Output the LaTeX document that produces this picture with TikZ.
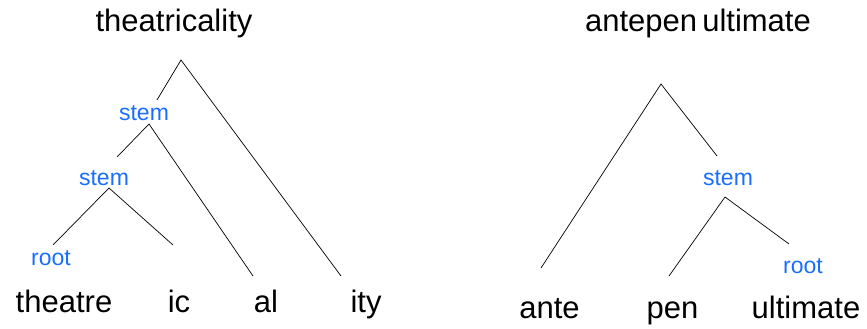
\documentclass[tikz,border=0pt]{standalone}
\usepackage{fontspec}
\setmainfont{Liberation Sans}
\definecolor{labblue}{RGB}{25,110,255}

\begin{document}
\begin{tikzpicture}[x=1pt,y=-1pt,line width=0.7pt,
            every node/.style={inner sep=0pt,anchor=base},
            word/.style={font=\fontsize{31}{36}\selectfont},
            lab/.style={font=\fontsize{23}{27}\selectfont,text=labblue}]
            \useasboundingbox(0,0)rectangle(867,329);
            % theatricality
            \node[word](theatricality)at(174,32){theatricality};
            \node[lab](stemup)at(144,120){stem};
            \node[lab](stemlow)at(104,185){stem};
            \node[lab](rootl)at(51,265){root};
            \node[word](theatre)at(64,312){theatre};
            \node[word](ic)at(179,312){ic};
            \node[word](al)at(266,312){al};
            \node[word](ity)at(366,312){ity};
            \coordinate(topl)at(181,60);
            \coordinate(topl-a)at(157,100);
            \coordinate(topl-b)at(341,276);
            \coordinate(stemup-top)at(149,124);
            \coordinate(stemup-a)at(117,157);
            \coordinate(stemup-b)at(253,276);
            \coordinate(stemlow-top)at(109,188);
            \coordinate(stemlow-a)at(53,245);
            \coordinate(stemlow-b)at(173,245);
            \draw(topl-a)--(topl)--(topl-b);
            \draw(stemup-a)--(stemup-top)--(stemup-b);
            \draw(stemlow-a)--(stemlow-top)--(stemlow-b);
            % antepenultimate
            \node[word](antepenultimate)at(698,32){antepen\,ultimate};
            \node[lab](stemr)at(728,185){stem};
            \node[lab](rootr)at(803,273){root};
            \node[word](ante)at(549.5,318){ante};
            \node[word](pen)at(672.5,318){pen};
            \node[word](ultimate)at(806,318){ultimate};
            \coordinate(topr)at(661,84);
            \coordinate(topr-a)at(541,268);
            \coordinate(topr-b)at(717,156);
            \coordinate(stemr-top)at(725,197);
            \coordinate(stemr-a)at(669,276);
            \coordinate(stemr-b)at(789,244);
            \draw(topr-a)--(topr)--(topr-b);
            \draw(stemr-a)--(stemr-top)--(stemr-b);
          \end{tikzpicture}
\end{document}
